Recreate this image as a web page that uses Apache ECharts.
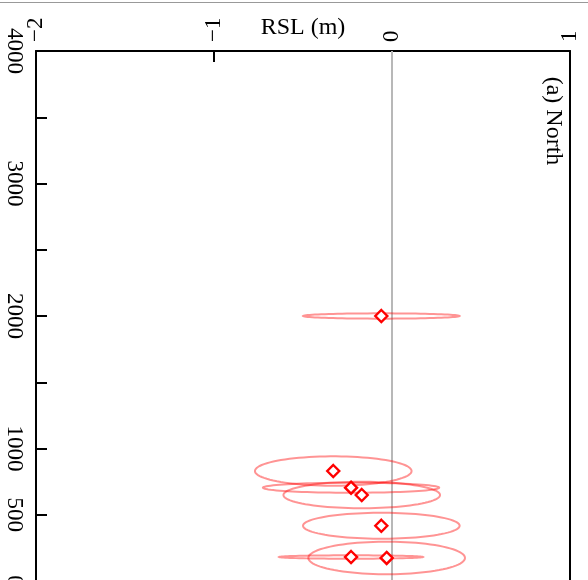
<!DOCTYPE html>
<html>
<head>
<meta charset="utf-8">
<script src="https://cdn.jsdelivr.net/npm/echarts@6/dist/echarts.min.js"></script>
<style>
  html, body { margin: 0; padding: 0; background: #fff; }
  #chart { width: 588px; height: 580px; }
</style>
</head>
<body>
<div id="chart"></div>
<script>
// Sea-level index points, North region
const ages    = [2000, 830, 704, 649, 417, 181, 174];          // years BP
const rsl     = [-0.06, -0.33, -0.23, -0.17, -0.06, -0.23, -0.03]; // m
const rslErr  = [0.44, 0.44, 0.495, 0.44, 0.44, 0.405, 0.44];  // m, half-width
const ageErr  = [20, 111, 38, 100, 98, 13, 123];               // years, half-height

// Axis ticks and labels
const rslMajorTicks = [-1, 0, 1];
const rslMinorTicks = [-0.8, -0.6, -0.4, -0.2, 0.2, 0.4, 0.6, 0.8];
const rslLabels     = [-2, -1, 0, 1];
const ageTicks      = [500, 1000, 1500, 2000, 2500, 3000, 3500, 4000];
const ageLabels     = [0, 500, 1000, 2000, 3000, 4000];

const axisTitle  = 'RSL (m)';
const panelTitle = '(a) North';

const FONT = '"Liberation Serif", "Times New Roman", serif';

const chart = echarts.init(document.getElementById('chart'), null, { renderer: 'canvas' });

const ellipseData = ages.map((a, i) => [rsl[i], a, rslErr[i], ageErr[i]]);
const pointData   = ages.map((a, i) => [rsl[i], a]);

const option = {
  backgroundColor: '#fff',
  animation: false,
  grid: { left: 36, top: 51, width: 534, height: 530, outerBoundsMode: 'none', containLabel: false },
  xAxis: [
    {
      type: 'value', position: 'top', min: -2, max: 1, interval: 1,
      name: axisTitle, nameLocation: 'middle', nameGap: 11, nameMoveOverlap: false,
      nameTextStyle: { fontFamily: FONT, fontSize: 24, color: '#000' },
      axisLine: { show: true, onZero: false, lineStyle: { color: '#000', width: 2 } },
      axisTick: { show: true, inside: true, length: 11, customValues: rslMajorTicks,
                  lineStyle: { color: '#000', width: 2 } },
      axisLabel: {
        show: true, rotate: -90, margin: 9, customValues: rslLabels,
        fontFamily: FONT, fontSize: 23, color: '#000',
        formatter: v => String(v).replace('-', '\u2212')
      },
      splitLine: { show: false }
    },
    {
      type: 'value', position: 'top', min: -2, max: 1, interval: 0.2,
      axisLine: { show: false },
      axisTick: { show: true, inside: true, length: 6, customValues: rslMinorTicks,
                  lineStyle: { color: '#000', width: 2 } },
      axisLabel: { show: false },
      splitLine: { show: false }
    }
  ],
  yAxis: [
    {
      type: 'value', position: 'left', min: 0, max: 4000, interval: 500,
      axisLine: { show: true, onZero: false, lineStyle: { color: '#000', width: 2 } },
      axisTick: { show: true, inside: true, length: 11, customValues: ageTicks,
                  lineStyle: { color: '#000', width: 2 } },
      axisLabel: {
        show: true, rotate: -90, margin: 10, customValues: ageLabels,
        fontFamily: FONT, fontSize: 23, color: '#000',
        formatter: v => String(v)
      },
      splitLine: { show: false }
    },
    {
      type: 'value', position: 'right', min: 0, max: 4000,
      axisLine: { show: true, onZero: false, lineStyle: { color: '#000', width: 2 } },
      axisTick: { show: false },
      axisLabel: { show: false },
      splitLine: { show: false }
    }
  ],
  series: [
    {
      // zero RSL reference line
      type: 'line', xAxisIndex: 0, yAxisIndex: 0,
      data: [[0, 0], [0, 4000]],
      symbol: 'none', silent: true, z: 1,
      lineStyle: { color: '#b8b8b8', width: 2 }
    },
    {
      // uncertainty ellipses
      type: 'custom', xAxisIndex: 0, yAxisIndex: 0, z: 2,
      data: ellipseData,
      encode: { x: 0, y: 1 },
      renderItem: (params, api) => {
        const cx = api.value(0), cy = api.value(1);
        const rx = api.value(2), ry = api.value(3);
        const pts = [];
        const n = 90;
        for (let k = 0; k < n; k++) {
          const t = (k / n) * Math.PI * 2;
          pts.push(api.coord([cx + rx * Math.cos(t), cy + ry * Math.sin(t)]));
        }
        return {
          type: 'polygon',
          shape: { points: pts },
          style: { fill: 'none', stroke: 'rgba(255,0,0,0.42)', lineWidth: 2 }
        };
      }
    },
    {
      type: 'scatter', xAxisIndex: 0, yAxisIndex: 0, z: 3,
      data: pointData,
      symbol: 'diamond', symbolSize: 12,
      itemStyle: { color: '#fff', borderColor: '#ff0000', borderWidth: 2.4, opacity: 1 }
    }
  ],
  graphic: [
    {
      type: 'line', silent: true,
      shape: { x1: 0, y1: 2.5, x2: 588, y2: 2.5 },
      style: { stroke: '#999', lineWidth: 1 }
    },
    {
      type: 'text', x: 553, y: 121, rotation: -Math.PI / 2,
      style: {
        text: panelTitle, fontFamily: FONT, fontSize: 24, fill: '#000',
        align: 'center', verticalAlign: 'middle'
      }
    }
  ]
};

chart.setOption(option);
</script>
</body>
</html>
